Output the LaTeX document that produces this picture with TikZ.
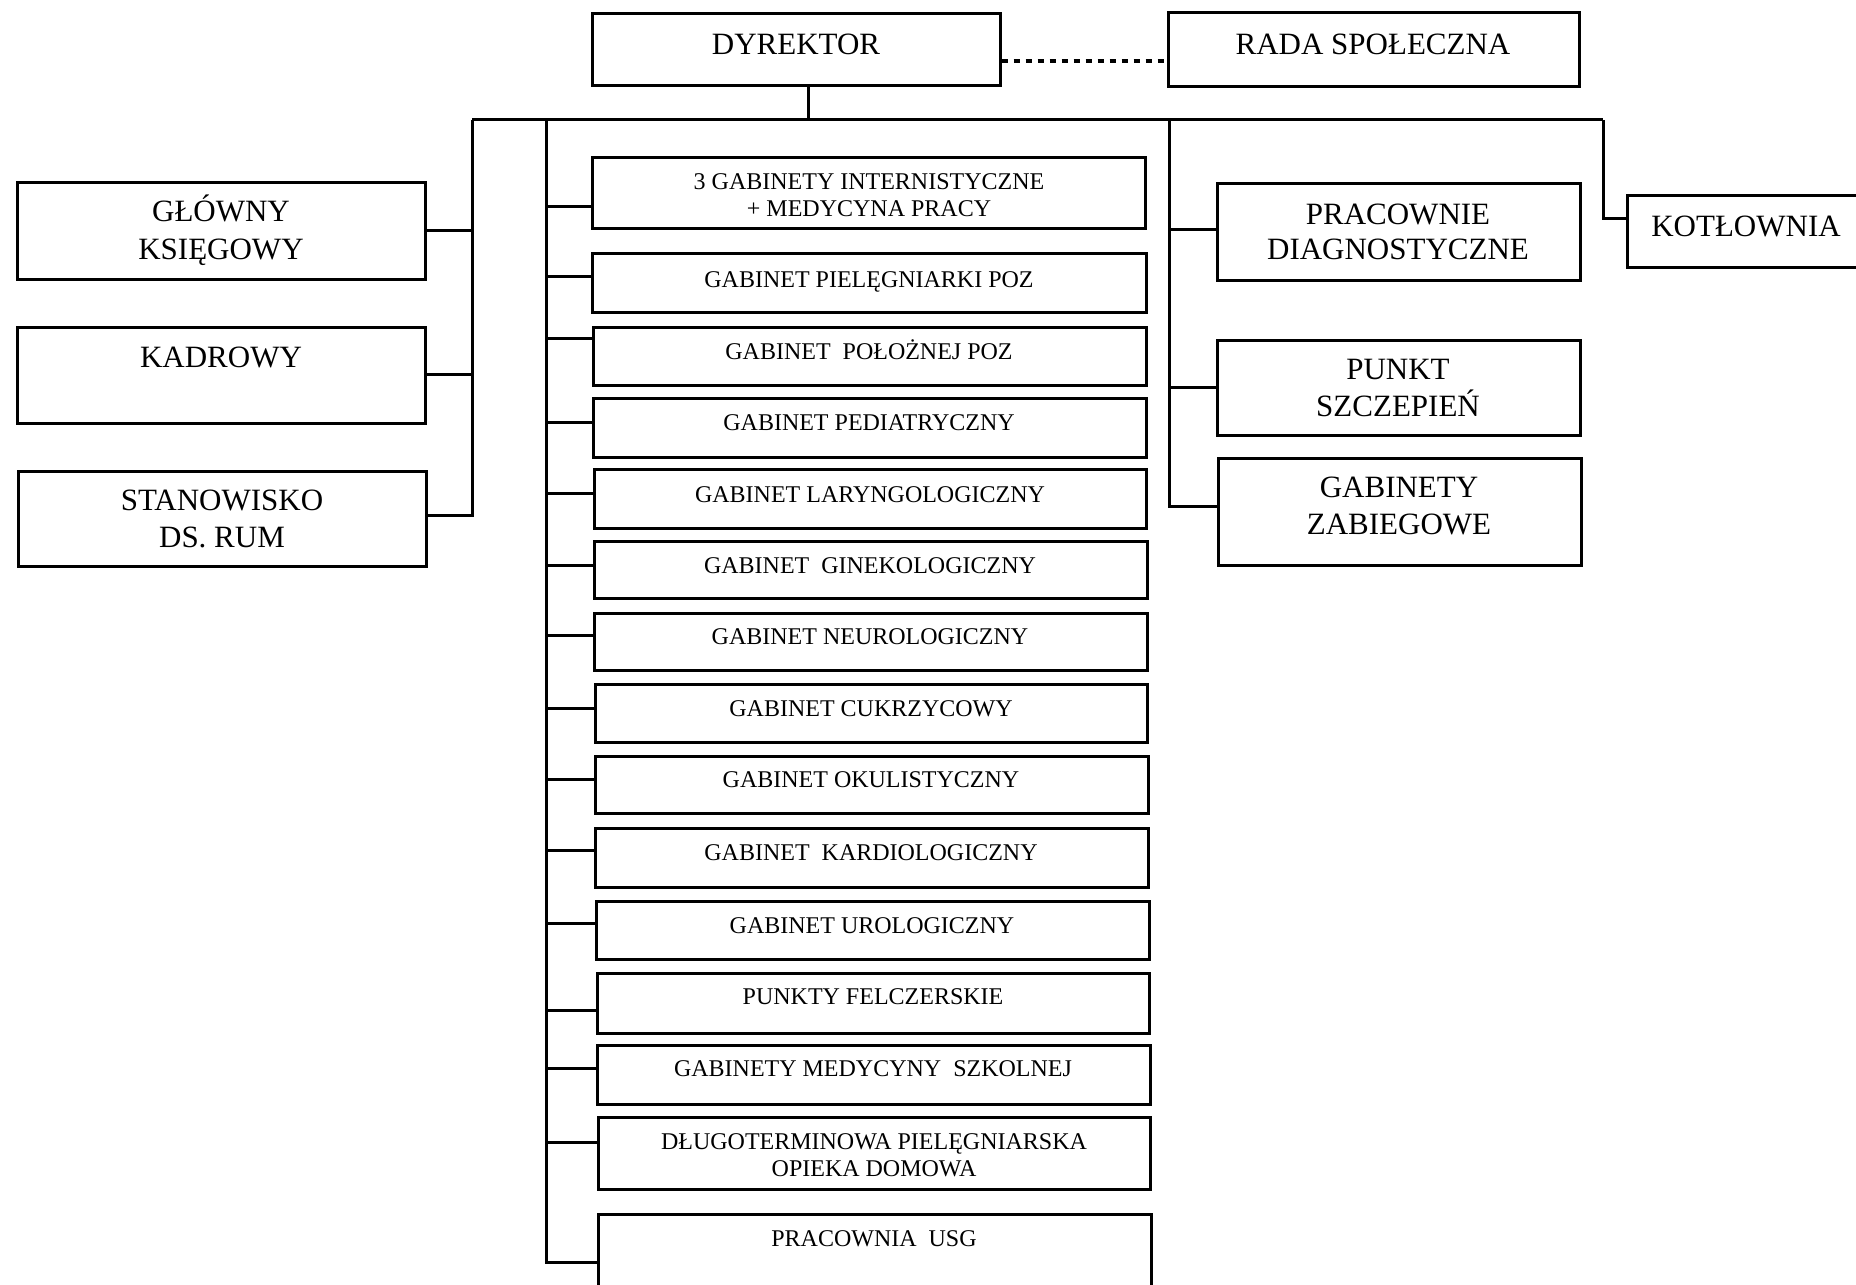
\documentclass[tikz,border=0pt]{standalone}
\usepackage{fontspec}
\setmainfont{Liberation Serif}
\usetikzlibrary{fit}
\tikzset{
  box/.style={draw, line width=1.5pt, inner sep=0pt, rectangle},
  big/.style={font=\fontsize{15.5}{19}\selectfont, inner sep=0pt, text height=10.2pt, text depth=0pt},
  small/.style={font=\fontsize{12}{13.5}\selectfont, inner sep=0pt, text height=7.9pt, text depth=0pt},
  conn/.style={line width=1.5pt},
  dotlink/.style={line width=1.8pt, dash pattern=on 3pt off 3pt}
}
\begin{document}
\begin{tikzpicture}[x=0.5pt, y=-0.5pt]
\path[use as bounding box, fill=white] (0,0) rectangle (1856,1284);

% top
\node[box, fit={(592,14) (1000,86)}] (dyr) {};
\node[big] (dyrT) at (796,44) {DYREKTOR};
\node[box, fit={(1168,13) (1579,87)}] (rada) {};
\node[big] (radaT) at (1373,44) {RADA SPOŁECZNA};
\draw[dotlink] (dyr.east |- 0,61) -- (rada.west |- 0,61);

% bus coordinates
\coordinate (top) at (808,120);
\coordinate (busL) at (472,120);
\coordinate (busR) at (1603,120);
\coordinate (busM) at (546,120);
\coordinate (busRR) at (1169,120);
\draw[conn] (dyr.south -| top) -- (top);
\draw[conn] (busL) -- (busR);

% left boxes
\node[box, fit={(17,182) (425,279)}] (glo) {};
\node[big] (gloA) at (221,211) {GŁÓWNY};
\node[big] (gloB) at (221,249) {KSIĘGOWY};
\node[box, fit={(17,327) (425,423)}] (kad) {};
\node[big] (kadT) at (221,357) {KADROWY};
\node[box, fit={(18,471) (426,566)}] (sta) {};
\node[big] (staA) at (222,500) {STANOWISKO};
\node[big] (staB) at (222,537) {DS. RUM};
\draw[conn] (busL) -- (472,515) -- (sta.east |- 0,515);
\draw[conn] (472,230) -- (glo.east |- 0,230);
\draw[conn] (472,374) -- (kad.east |- 0,374);

% right boxes
\node[box, fit={(1217,183) (1580,280)}] (pra) {};
\node[big] (praA) at (1398,214) {PRACOWNIE};
\node[big] (praB) at (1398,249) {DIAGNOSTYCZNE};
\node[box, fit={(1217,340) (1580,435)}] (pun) {};
\node[big] (punA) at (1398,369) {PUNKT};
\node[big] (punB) at (1398,406) {SZCZEPIEŃ};
\node[box, fit={(1218,458) (1581,565)}] (zab) {};
\node[big] (zabA) at (1399,487) {GABINETY};
\node[big] (zabB) at (1399,524) {ZABIEGOWE};
\draw[conn] (busRR) -- (1169,506) -- (zab.west |- 0,506);
\draw[conn] (1169,229) -- (pra.west |- 0,229);
\draw[conn] (1169,387) -- (pun.west |- 0,387);

\node[box, fit={(1627,195) (1880,267)}] (kot) {};
\node[big] (kotT) at (1746,226) {KOTŁOWNIA};
\draw[conn] (busR) -- (1603,218) -- (kot.west |- 0,218);

% middle boxes
\node[box, fit={(592,157) (1145,228)}] (m1) {};
\node[small] (m1A) at (869,182) {3 GABINETY INTERNISTYCZNE};
\node[small] (m1B) at (869,209) {+ MEDYCYNA PRACY};
\node[box, fit={(592,253) (1146,312)}] (m2) {};
\node[small] (m2T) at (869,280) {GABINET PIELĘGNIARKI POZ};
\node[box, fit={(593,327) (1146,385)}] (m3) {};
\node[small] (m3T) at (869,352) {GABINET\ \ POŁOŻNEJ POZ};
\node[box, fit={(593,398) (1146,457)}] (m4) {};
\node[small] (m4T) at (869,423) {GABINET PEDIATRYCZNY};
\node[box, fit={(594,469) (1146,528)}] (m5) {};
\node[small] (m5T) at (870,495) {GABINET LARYNGOLOGICZNY};
\node[box, fit={(594,541) (1147,598)}] (m6) {};
\node[small] (m6T) at (870,566) {GABINET\ \ GINEKOLOGICZNY};
\node[box, fit={(594,613) (1147,670)}] (m7) {};
\node[small] (m7T) at (870,637) {GABINET NEUROLOGICZNY};
\node[box, fit={(595,684) (1147,742)}] (m8) {};
\node[small] (m8T) at (871,709) {GABINET CUKRZYCOWY};
\node[box, fit={(595,756) (1148,813)}] (m9) {};
\node[small] (m9T) at (871,780) {GABINET OKULISTYCZNY};
\node[box, fit={(595,828) (1148,887)}] (m10) {};
\node[small] (m10T) at (871,853) {GABINET\ \ KARDIOLOGICZNY};
\node[box, fit={(596,901) (1149,959)}] (m11) {};
\node[small] (m11T) at (872,926) {GABINET UROLOGICZNY};
\node[box, fit={(597,973) (1149,1033)}] (m12) {};
\node[small] (m12T) at (873,997) {PUNKTY FELCZERSKIE};
\node[box, fit={(597,1045) (1150,1104)}] (m13) {};
\node[small] (m13T) at (873,1069) {GABINETY MEDYCYNY\ \ SZKOLNEJ};
\node[box, fit={(598,1117) (1150,1189)}] (m14) {};
\node[small] (m14A) at (874,1142) {DŁUGOTERMINOWA PIELĘGNIARSKA};
\node[small] (m14B) at (874,1169) {OPIEKA DOMOWA};
\node[box, fit={(598,1214) (1151,1310)}] (m15) {};
\node[small] (m15T) at (874,1239) {PRACOWNIA\ \ USG};

\draw[conn] (busM) -- (546,1262) -- (m15.west |- 0,1262);
\draw[conn] (546,206) -- (m1.west |- 0,206);
\draw[conn] (546,276) -- (m2.west |- 0,276);
\draw[conn] (546,338) -- (m3.west |- 0,338);
\draw[conn] (546,422) -- (m4.west |- 0,422);
\draw[conn] (546,493) -- (m5.west |- 0,493);
\draw[conn] (546,565) -- (m6.west |- 0,565);
\draw[conn] (546,635) -- (m7.west |- 0,635);
\draw[conn] (546,708) -- (m8.west |- 0,708);
\draw[conn] (546,779) -- (m9.west |- 0,779);
\draw[conn] (546,850) -- (m10.west |- 0,850);
\draw[conn] (546,923) -- (m11.west |- 0,923);
\draw[conn] (546,1010) -- (m12.west |- 0,1010);
\draw[conn] (546,1068) -- (m13.west |- 0,1068);
\draw[conn] (546,1142) -- (m14.west |- 0,1142);
\end{tikzpicture}
\end{document}
